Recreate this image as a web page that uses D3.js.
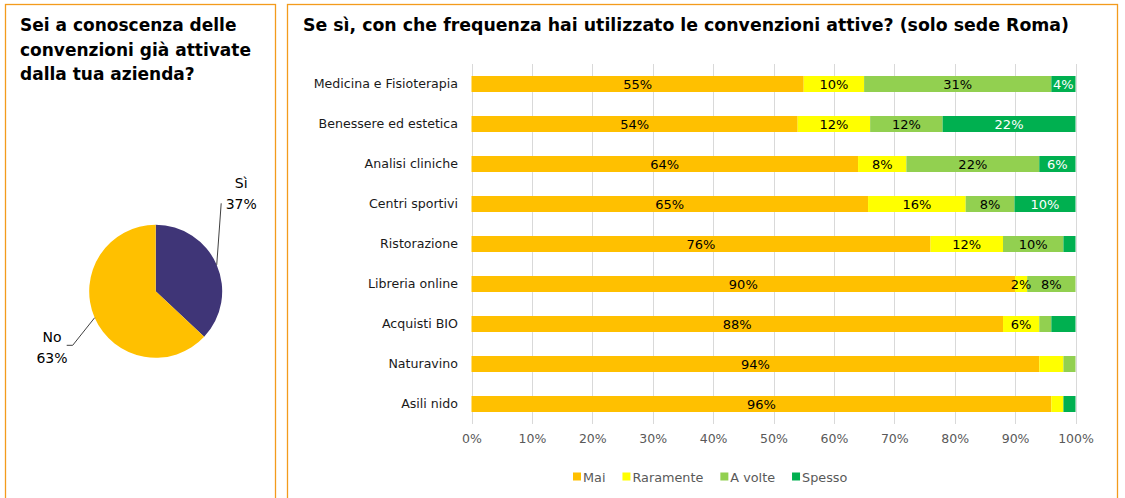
<!DOCTYPE html>
<html>
<head>
<meta charset="utf-8">
<script src="https://cdn.jsdelivr.net/npm/d3@7"></script>
<style>
  html, body { margin: 0; padding: 0; background: #fff; }
  svg { display: block; }
  text { font-family: "DejaVu Sans", Verdana, sans-serif; }
</style>
</head>
<body>
<svg id="chart" width="1125" height="498"></svg>
<script>
// ---------------- DATA ----------------
const pieLabels = ["Sì", "No"];
const pieValues = [37, 63];

const categories = [
  "Medicina e Fisioterapia",
  "Benessere ed estetica",
  "Analisi cliniche",
  "Centri sportivi",
  "Ristorazione",
  "Libreria online",
  "Acquisti BIO",
  "Naturavino",
  "Asili nido"
];
const seriesNames = ["Mai", "Raramente", "A volte", "Spesso"];
const mai       = [55, 54, 64, 65, 76, 90, 88, 94, 96];
const raramente = [10, 12,  8, 16, 12,  2,  6,  4,  2];
const aVolte    = [31, 12, 22,  8, 10,  8,  2,  2,  0];
const spesso    = [ 4, 22,  6, 10,  2,  0,  4,  0,  2];
// labels not displayed in the original (category|series)
const hiddenLabels = [
  "Ristorazione|Spesso",
  "Acquisti BIO|A volte", "Acquisti BIO|Spesso",
  "Naturavino|Raramente", "Naturavino|A volte",
  "Asili nido|Raramente", "Asili nido|Spesso"
];
const xTicks = [0, 0.1, 0.2, 0.3, 0.4, 0.5, 0.6, 0.7, 0.8, 0.9, 1.0];

const leftTitle = ["Sei a conoscenza delle", "convenzioni già attivate", "dalla tua azienda?"];
const rightTitle = "Se sì, con che frequenza hai utilizzato le convenzioni attive? (solo sede Roma)";

// ---------------- STYLE ----------------
const seriesColors = ["#FFC000", "#FFFF00", "#92D050", "#00B050"];
const pieColors = ["#3F3577", "#FFC000"];
const labelColors = ["#000", "#000", "#000", "#fff"];
const borderColor = "#F39B1C";

const svg = d3.select("#chart");

// panels
svg.append("rect").attr("x", 5.5).attr("y", 4.5).attr("width", 270).attr("height", 520)
  .attr("fill", "none").attr("stroke", borderColor).attr("stroke-width", 1.3);
svg.append("rect").attr("x", 287.5).attr("y", 4.5).attr("width", 830).attr("height", 520)
  .attr("fill", "none").attr("stroke", borderColor).attr("stroke-width", 1.3);

// ---------------- LEFT: title + pie ----------------
const lt = svg.append("text").attr("font-weight", "bold").attr("font-size", 17).attr("fill", "#000");
leftTitle.forEach((line, i) => {
  lt.append("tspan").attr("x", 20).attr("y", 31 + i * 24.5).text(line);
});

const cx = 155.7, cy = 291.3, r = 66.5;
const pie = d3.pie().sort(null).value(d => d);
const arcs = pie(pieValues);
const arc = d3.arc().innerRadius(0).outerRadius(r);
const edgeArc = d3.arc().innerRadius(r).outerRadius(r);
const pg = svg.append("g").attr("transform", `translate(${cx},${cy})`);
pg.selectAll("path").data(arcs).join("path")
  .attr("d", arc).attr("fill", (d, i) => pieColors[i]);

// leader lines + labels (offsets relative to pie centre)
const labelOffsets = [
  { lx: 65.5, ly: -88, tx: 85.5, ty: -103 },   // Sì
  { lx: -83, ly: 54, tx: -103.7, ty: 51 }      // No
];
arcs.forEach((d, i) => {
  const c = edgeArc.centroid(d);
  const o = labelOffsets[i];
  const pts = i === 0
    ? [[c[0], c[1]], [o.lx, o.ly]]
    : [[c[0], c[1]], [o.lx, o.ly], [o.lx - 6, o.ly]];
  pg.append("path").attr("d", d3.line()(pts))
    .attr("fill", "none").attr("stroke", "#404040").attr("stroke-width", 1);
  const t = pg.append("text").attr("text-anchor", "middle").attr("font-size", 14).attr("fill", "#000");
  t.append("tspan").attr("x", o.tx).attr("y", o.ty).text(pieLabels[i]);
  t.append("tspan").attr("x", o.tx).attr("y", o.ty + 21).text(pieValues[i] + "%");
});

// ---------------- RIGHT: title + stacked bars ----------------
svg.append("text").attr("x", 303).attr("y", 31)
  .attr("font-weight", "bold").attr("font-size", 18).attr("fill", "#000")
  .attr("textLength", 766).attr("lengthAdjust", "spacingAndGlyphs")
  .text(rightTitle);

const x = d3.scaleLinear().domain([0, 1]).range([471.5, 1075.5]);
const y = d3.scaleBand().domain(categories).range([64, 424]).paddingInner(0.6).paddingOuter(0.3);

const rows = categories.map((c, i) => ({
  cat: c, "Mai": mai[i], "Raramente": raramente[i], "A volte": aVolte[i], "Spesso": spesso[i]
}));
const stack = d3.stack().keys(seriesNames).offset(d3.stackOffsetExpand);
const stacked = stack(rows);

// grid
svg.append("g").selectAll("line").data(xTicks).join("line")
  .attr("x1", d => Math.round(x(d)) + 0.5).attr("x2", d => Math.round(x(d)) + 0.5)
  .attr("y1", 64).attr("y2", 424)
  .attr("stroke", "#D9D9D9").attr("stroke-width", 1);

// x axis tick labels
const xAxis = d3.axisBottom(x).tickValues(xTicks).tickFormat(d3.format(".0%")).tickSize(0).tickPadding(0);
const xg = svg.append("g").attr("transform", "translate(0,434)").call(xAxis);
xg.select(".domain").remove();
xg.selectAll("text").attr("font-size", 12.5).attr("fill", "#595959")
  .attr("font-family", "'DejaVu Sans', sans-serif").attr("dy", "0.71em");

// y axis labels
const yAxis = d3.axisLeft(y).tickSize(0).tickPadding(0);
const yg = svg.append("g").attr("transform", "translate(458,0)").call(yAxis);
yg.select(".domain").remove();
yg.selectAll("text").attr("font-size", 12.6).attr("fill", "#1a1a1a")
  .attr("font-family", "'DejaVu Sans', sans-serif");

// bars
const layers = svg.append("g").selectAll("g").data(stacked).join("g")
  .attr("fill", (d, i) => seriesColors[i]);
layers.selectAll("rect").data(d => d).join("rect")
  .attr("x", d => x(d[0]))
  .attr("width", d => Math.max(0, x(d[1]) - x(d[0])))
  .attr("y", d => y(d.data.cat))
  .attr("height", y.bandwidth());

// data labels
stacked.forEach((layer, si) => {
  const key = seriesNames[si];
  svg.append("g").selectAll("text").data(layer.filter(d =>
      d.data[key] > 0 && !hiddenLabels.includes(d.data.cat + "|" + key)))
    .join("text")
    .attr("x", d => (x(d[0]) + x(d[1])) / 2)
    .attr("y", d => y(d.data.cat) + y.bandwidth() / 2)
    .attr("dy", "0.36em")
    .attr("text-anchor", "middle")
    .attr("font-size", 13)
    .attr("fill", labelColors[si])
    .text(d => d.data[key] + "%");
});

// legend
const lg = svg.append("g").attr("transform", "translate(573,477)");
let lx = 0;
seriesNames.forEach((name, i) => {
  lg.append("rect").attr("x", lx).attr("y", -4.5).attr("width", 8).attr("height", 8).attr("fill", seriesColors[i]);
  const t = lg.append("text").attr("x", lx + 10).attr("y", 0).attr("dy", "0.36em")
    .attr("font-size", 12.8).attr("fill", "#595959").text(name);
  lx += 10 + t.node().getComputedTextLength() + 17;
});
</script>
</body>
</html>
